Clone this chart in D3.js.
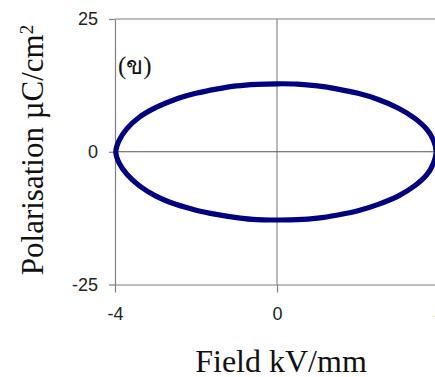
<!DOCTYPE html>
<html>
<head>
<meta charset="utf-8">
<script src="https://cdn.jsdelivr.net/npm/d3@7"></script>
<style>
  html, body { margin: 0; padding: 0; background: #fff; }
  svg { display: block; }
</style>
</head>
<body>
<svg id="chart" width="435" height="377"></svg>
<script>
// ---- data ----
const xTicks = [-4, 0, 4];
const yTicks = [-25, 0, 25];
const xDomain = [-4, 4];
const yDomain = [-25, 25];
const xTitle = "Field kV/mm";
const yTitleMain = "Polarisation  \u00B5C/cm";
const yTitleSup = "2";
const panelLabel = "(\u0E02)";

// P-E loop (closed loop)
const field = [-3.98, -3.9, -3.7, -3.4, -3.0, -2.5, -2.0, -1.5, -1.0, -0.5, 0.0, 0.5, 1.0, 1.5, 2.0, 2.5, 3.0, 3.4, 3.7, 3.86, 3.93,
               3.86, 3.7, 3.4, 3.0, 2.5, 2.0, 1.5, 1.0, 0.5, 0.0, -0.5, -1.0, -1.5, -2.0, -2.5, -3.0, -3.4, -3.7, -3.9];
const polarisation = [0, 2.1, 4.4, 6.5, 8.3, 9.9, 11.0, 11.8, 12.4, 12.7, 12.8, 12.75, 12.4, 11.8, 11.0, 9.85, 8.2, 6.3, 4.2, 2.2, 0,
                      -2.2, -4.3, -6.4, -8.3, -9.9, -11.1, -11.9, -12.5, -12.8, -12.85, -12.8, -12.4, -11.8, -11.0, -9.9, -8.3, -6.4, -4.3, -2.1];

// ---- layout ----
(function () {
const svg = d3.select("#chart");
const pLeft = 115, pRight = 439, pTop = 19, pBottom = 284.5;
const x = d3.scaleLinear().domain(xDomain).range([pLeft, pRight]);
const y = d3.scaleLinear().domain(yDomain).range([pBottom, pTop]);
const fmt = d => String(d);  // plain hyphen-minus like the reference

const axisColor = "#808080";

// frame: top border
svg.append("line").attr("x1", pLeft).attr("x2", 435).attr("y1", pTop).attr("y2", pTop)
  .attr("stroke", axisColor).attr("stroke-width", 1.2);
// zero lines
svg.append("line").attr("x1", x(0)).attr("x2", x(0)).attr("y1", pTop).attr("y2", pBottom)
  .attr("stroke", "#8a8a8a").attr("stroke-width", 1.2);
svg.append("line").attr("x1", pLeft).attr("x2", 435).attr("y1", y(0)).attr("y2", y(0))
  .attr("stroke", "#555").attr("stroke-width", 1.1);

// axes
const yAxis = svg.append("g").attr("transform", `translate(${pLeft},0)`)
  .call(d3.axisLeft(y).tickValues(yTicks).tickSizeInner(6).tickSizeOuter(0).tickPadding(11).tickFormat(fmt));
const xAxis = svg.append("g").attr("transform", `translate(0,${pBottom})`)
  .call(d3.axisBottom(x).tickValues(xTicks).tickSizeInner(8).tickSizeOuter(0).tickPadding(15).tickFormat(fmt));

[xAxis, yAxis].forEach(g => {
  g.select(".domain").attr("stroke", axisColor).attr("stroke-width", 1.2);
  g.selectAll(".tick line").attr("stroke", axisColor).attr("stroke-width", 1.2);
  g.selectAll(".tick text").attr("fill", "#222")
    .style("font-family", "'Liberation Sans', Arial, sans-serif").style("font-size", "18px");
});

// loop
const pts = field.map((f, i) => [f, polarisation[i]]);
const line = d3.line().x(d => x(d[0])).y(d => y(d[1])).curve(d3.curveCatmullRomClosed.alpha(0.5));
svg.append("path").attr("d", line(pts)).attr("fill", "none")
  .attr("stroke", "#000080").attr("stroke-width", 5.2);

// panel label
svg.append("text").attr("x", 118).attr("y", 74)
  .style("font-family", "'Liberation Serif', 'Times New Roman', serif").style("font-size", "25px")
  .attr("fill", "#111").text(panelLabel);

// x title
svg.append("text").attr("x", 281).attr("y", 372).attr("text-anchor", "middle")
  .style("font-family", "'Liberation Serif', 'Times New Roman', serif").style("font-size", "32px")
  .attr("fill", "#111").text(xTitle);

// y title
const yt = svg.append("text").attr("transform", "translate(43,150) rotate(-90)")
  .attr("text-anchor", "middle")
  .style("font-family", "'Liberation Serif', 'Times New Roman', serif").style("font-size", "31px")
  .attr("fill", "#111");
yt.append("tspan").text(yTitleMain);
yt.append("tspan").attr("dy", "-0.55em").style("font-size", "19px").text(yTitleSup);
})();
</script>
</body>
</html>
